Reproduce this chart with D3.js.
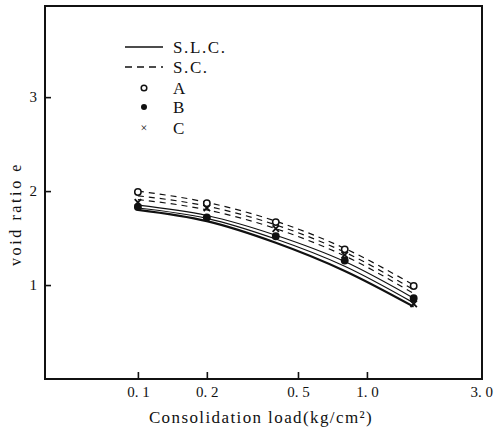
<!DOCTYPE html>
<html>
<head>
<meta charset="utf-8">
<script src="https://cdn.jsdelivr.net/npm/d3@7"></script>
<style>
  body { margin: 0; background: #fff; }
  svg { display: block; }
  text { font-family: "Liberation Serif", "DejaVu Serif", serif; fill: #111; }
</style>
</head>
<body>
<svg id="chart" width="496" height="433"></svg>
<script>
// consolidation load (kg/cm2)
const loads = [0.1, 0.2, 0.4, 0.8, 1.6];
const xTicks = [0.1, 0.2, 0.5, 1.0, 3.0];
const yTicks = [1, 2, 3];

// S.C. curves (dashed)
const scA = [2.00, 1.88, 1.68, 1.39, 1.00];
const scB = [1.95, 1.84, 1.64, 1.35, 0.95];
const scC = [1.91, 1.80, 1.60, 1.31, 0.91];
// S.L.C. curves (solid)
const slcA = [1.85, 1.74, 1.53, 1.25, 0.86];
const slcB = [1.82, 1.71, 1.49, 1.20, 0.81];
const slcC = [1.80, 1.68, 1.45, 1.15, 0.77];

// measured points
const ptsA = [1.99, 1.87, 1.67, 1.38, 0.99];
const ptsB = [1.83, 1.72, 1.52, 1.26, 0.86];
const ptsC = [1.88, 1.82, 1.60, 1.32, 0.80];

const svg = d3.select('#chart');
const plotLeft = 45, plotRight = 482, plotTop = 6, plotBottom = 379;

const x = d3.scaleLog().domain([0.0393, 3.18]).range([plotLeft, plotRight]);
const y = d3.scaleLinear().domain([0, 3.97]).range([plotBottom, plotTop]);

// frame
svg.append('rect')
  .attr('x', plotLeft).attr('y', plotTop)
  .attr('width', plotRight - plotLeft).attr('height', plotBottom - plotTop)
  .attr('fill', 'none').attr('stroke', '#111').attr('stroke-width', 2);

// axes, ticks pointing inward
const xAxis = d3.axisTop(x).tickValues(xTicks).tickSize(7)
  .tickFormat(d => d3.format('.1f')(d).replace('.', '. '));
let gx = svg.append('g').attr('transform', 'translate(0,' + plotBottom + ')').call(xAxis);
gx.select('.domain').remove();
gx.selectAll('line').attr('stroke', '#111').attr('stroke-width', 1.6);
gx.selectAll('text').attr('y', 18).attr('dy', 0)
  .attr('font-size', 15).attr('font-family', '"Liberation Serif", serif')
  .attr('style', 'white-space: pre');
gx.selectAll('.tick').filter(d => d === 3.0).select('line').remove();
gx.selectAll('.tick').filter(d => d === 3.0).select('text').attr('x', 5);

const yAxis = d3.axisRight(y).tickValues(yTicks).tickSize(6).tickFormat(d3.format('d'));
let gy = svg.append('g').attr('transform', 'translate(' + plotLeft + ',0)').call(yAxis);
gy.select('.domain').remove();
gy.selectAll('line').attr('stroke', '#111').attr('stroke-width', 1.6);
gy.selectAll('text').attr('x', -8).attr('text-anchor', 'end')
  .attr('font-size', 15).attr('font-family', '"Liberation Serif", serif');

// titles
svg.append('text')
  .attr('x', 261).attr('y', 423)
  .attr('text-anchor', 'middle')
  .attr('font-size', 17).attr('letter-spacing', 1.4)
  .text('Consolidation load(kg/cm²)');

svg.append('text')
  .attr('transform', 'translate(21,214) rotate(-90)')
  .attr('text-anchor', 'middle')
  .attr('font-size', 16).attr('letter-spacing', 2.6)
  .text('void ratio e');

// curves
const line = d3.line()
  .x((d, i) => x(loads[i]))
  .y(d => y(d))
  .curve(d3.curveMonotoneX);

const curves = [
  { v: scA, dash: '6,5', w: 1.2 },
  { v: scB, dash: '6,5', w: 1.2 },
  { v: scC, dash: '6,5', w: 1.2 },
  { v: slcA, dash: null, w: 1.2 },
  { v: slcB, dash: null, w: 1.2 },
  { v: slcC, dash: null, w: 2.2 }
];

svg.append('g').selectAll('path')
  .data(curves)
  .join('path')
  .attr('d', d => line(d.v))
  .attr('fill', 'none')
  .attr('stroke', '#111')
  .attr('stroke-width', d => d.w)
  .attr('stroke-dasharray', d => d.dash);

// markers
function drawCircles (vals, filled) {
  svg.append('g').selectAll('circle')
    .data(vals)
    .join('circle')
    .attr('cx', (d, i) => x(loads[i]))
    .attr('cy', d => y(d))
    .attr('r', 3.2)
    .attr('fill', filled ? '#111' : '#fff')
    .attr('stroke', '#111')
    .attr('stroke-width', 1.5);
}
function drawCrosses (vals) {
  svg.append('g').selectAll('path')
    .data(vals)
    .join('path')
    .attr('d', (d, i) => {
      let cx = x(loads[i]), cy = y(d), s = 3.2;
      return 'M' + (cx - s) + ',' + (cy - s) + 'L' + (cx + s) + ',' + (cy + s) +
             'M' + (cx - s) + ',' + (cy + s) + 'L' + (cx + s) + ',' + (cy - s);
    })
    .attr('stroke', '#111')
    .attr('stroke-width', 1.8);
}
drawCircles(ptsB, true);
drawCrosses(ptsC);
drawCircles(ptsA, false);

// legend
const legend = svg.append('g');
const lx1 = 125, lx2 = 163, tx = 173;
legend.append('line').attr('x1', lx1).attr('x2', lx2).attr('y1', 47).attr('y2', 47)
  .attr('stroke', '#111').attr('stroke-width', 1.5);
legend.append('line').attr('x1', lx1).attr('x2', lx2).attr('y1', 67).attr('y2', 67)
  .attr('stroke', '#111').attr('stroke-width', 1.5).attr('stroke-dasharray', '7,5');
legend.append('circle').attr('cx', 144).attr('cy', 88).attr('r', 2.8)
  .attr('fill', '#fff').attr('stroke', '#111').attr('stroke-width', 1.5);
legend.append('circle').attr('cx', 144).attr('cy', 107).attr('r', 3)
  .attr('fill', '#111');
legend.append('text').attr('x', 144).attr('y', 132).attr('text-anchor', 'middle')
  .attr('font-size', 12).text('×');

const labels = [['S.L.C.', 47], ['S.C.', 67], ['A', 88], ['B', 107], ['C', 128]];
legend.selectAll('text.lab')
  .data(labels)
  .join('text')
  .attr('class', 'lab')
  .attr('x', tx).attr('y', d => d[1] + 6)
  .attr('font-size', 17).attr('letter-spacing', 1.6)
  .text(d => d[0]);
</script>
</body>
</html>
